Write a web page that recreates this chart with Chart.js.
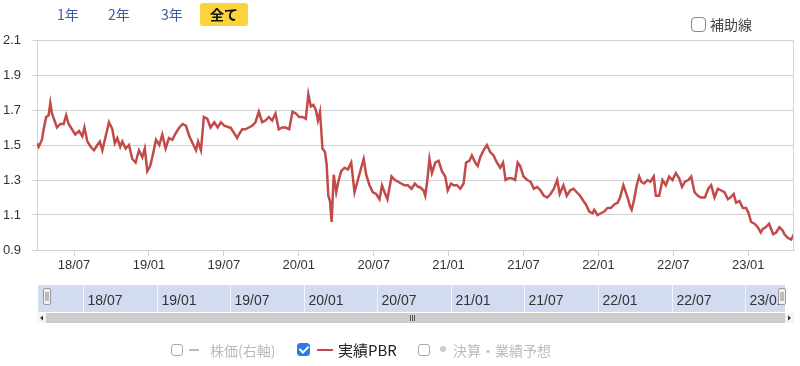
<!DOCTYPE html>
<html lang="ja">
<head>
<meta charset="utf-8">
<title>実績PBR</title>
<script src="https://cdn.jsdelivr.net/npm/chart.js@4.4.1/dist/chart.umd.min.js"></script>
<style>
  html, body { margin: 0; padding: 0; background: #fff; }
  body { width: 800px; height: 366px; position: relative; overflow: hidden;
         font-family: "Noto Sans CJK JP", "Noto Sans", sans-serif; }
  #wrap { position: absolute; left: 0; top: 0; width: 800px; height: 366px; }
  .abs { position: absolute; white-space: nowrap; }
  .range { top: 3px; height: 23px; line-height: 23px; font-size: 14px; color: #3b5ba5; }
  .range.on { background: #fbd33b; color: #111; font-weight: bold; border-radius: 3px; padding: 0 10px; }
  .box { box-sizing: border-box; border: 1.5px solid #aaa; border-radius: 3px; background: #fff; }
  .box.on { background: #2b7be0; border-color: #2b7be0; }
  .box.on::after { content: ""; position: absolute; left: 3px; top: 0px; width: 4px; height: 7px;
    border: solid #fff; border-width: 0 2px 2px 0; transform: rotate(45deg); }
  .leg { font-size: 14px; line-height: 20px; top: 340px; color: #bbb; }
</style>
</head>
<body>
<div id="wrap"><canvas id="pbr"></canvas></div>

<div class="abs range" style="left:57px">1年</div>
<div class="abs range" style="left:108px">2年</div>
<div class="abs range" style="left:161px">3年</div>
<div class="abs range on" style="left:200px">全て</div>

<div class="abs box" style="left:691px;top:17px;width:15px;height:15px;border-color:#888;border-radius:4px"></div>
<div class="abs" style="left:710px;top:14px;font-size:14px;line-height:20px;color:#444">補助線</div>

<div class="abs box" style="left:171px;top:344px;width:12px;height:12px"></div>
<div class="abs" style="left:189px;top:349px;width:10px;height:2px;background:#bbb"></div>
<div class="abs leg" style="left:210px">株価(右軸)</div>
<div class="abs box on" style="left:297px;top:343px;width:13px;height:13px"></div>
<div class="abs" style="left:317px;top:349px;width:16px;height:2px;background:#c24b4a"></div>
<div class="abs leg" style="left:338px;color:#222;font-size:15px">実績PBR</div>
<div class="abs box" style="left:418px;top:344px;width:12px;height:12px"></div>
<div class="abs" style="left:440px;top:346px;width:6px;height:6px;border-radius:3px;background:#ccc"></div>
<div class="abs leg" style="left:453px">決算・業績予想</div>

<script>
// 実績PBR
const dates = [
  '2018-04-02','2018-04-06','2018-04-14','2018-04-18','2018-04-24','2018-04-30','2018-05-04','2018-05-08',
  '2018-05-14','2018-05-20','2018-05-28','2018-06-06','2018-06-12','2018-06-18','2018-06-26','2018-07-04',
  '2018-07-13','2018-07-21','2018-07-26','2018-08-03','2018-08-11','2018-08-19','2018-08-27','2018-09-03',
  '2018-09-09','2018-09-17','2018-09-25','2018-10-03','2018-10-09','2018-10-15','2018-10-22','2018-10-27',
  '2018-11-05','2018-11-13','2018-11-21','2018-11-29','2018-12-07','2018-12-15','2018-12-21','2018-12-27',
  '2019-01-04','2019-01-10','2019-01-18','2019-01-26','2019-02-03','2019-02-11','2019-02-19','2019-02-27',
  '2019-03-06','2019-03-14','2019-03-22','2019-03-30','2019-04-08','2019-04-16','2019-04-24','2019-04-29',
  '2019-05-06','2019-05-13','2019-05-21','2019-05-29','2019-06-08','2019-06-16','2019-06-24','2019-07-02',
  '2019-07-14','2019-07-17','2019-07-25','2019-08-03','2019-08-07','2019-08-15','2019-08-23','2019-09-01',
  '2019-09-09','2019-09-17','2019-09-25','2019-10-03','2019-10-11','2019-10-19','2019-10-27','2019-11-05',
  '2019-11-13','2019-11-21','2019-11-29','2019-12-08','2019-12-16','2019-12-24','2020-01-02','2020-01-10',
  '2020-01-18','2020-01-24','2020-01-30','2020-02-06','2020-02-12','2020-02-17','2020-02-22','2020-02-28',
  '2020-03-04','2020-03-08','2020-03-12','2020-03-16','2020-03-20','2020-03-25','2020-04-01','2020-04-06',
  '2020-04-13','2020-04-21','2020-04-29','2020-05-07','2020-05-15','2020-05-23','2020-06-01','2020-06-07',
  '2020-06-13','2020-06-21','2020-06-29','2020-07-07','2020-07-15','2020-07-21','2020-07-27','2020-08-04',
  '2020-08-14','2020-08-22','2020-08-30','2020-09-07','2020-09-15','2020-09-23','2020-10-02','2020-10-10',
  '2020-10-18','2020-10-22','2020-11-01','2020-11-05','2020-11-10','2020-11-15','2020-11-21','2020-11-29',
  '2020-12-07','2020-12-15','2020-12-23','2020-12-29','2021-01-07','2021-01-13','2021-01-21','2021-01-29',
  '2021-02-07','2021-02-13','2021-02-21','2021-02-27','2021-03-05','2021-03-11','2021-03-17','2021-03-25',
  '2021-04-03','2021-04-11','2021-04-19','2021-04-27','2021-05-05','2021-05-12','2021-05-18','2021-05-25',
  '2021-06-03','2021-06-11','2021-06-17','2021-06-23','2021-07-01','2021-07-10','2021-07-18','2021-07-26',
  '2021-08-04','2021-08-12','2021-08-20','2021-08-28','2021-09-06','2021-09-14','2021-09-22','2021-09-28',
  '2021-10-07','2021-10-15','2021-10-23','2021-11-01','2021-11-09','2021-11-17','2021-11-25','2021-12-01',
  '2021-12-09','2021-12-17','2021-12-21','2021-12-29','2022-01-07','2022-01-15','2022-01-23','2022-02-01',
  '2022-02-09','2022-02-17','2022-02-23','2022-03-01','2022-03-04','2022-03-11','2022-03-17','2022-03-21',
  '2022-03-27','2022-04-03','2022-04-09','2022-04-14','2022-04-21','2022-04-29','2022-05-06','2022-05-14',
  '2022-05-19','2022-05-27','2022-06-05','2022-06-13','2022-06-21','2022-06-29','2022-07-07','2022-07-15',
  '2022-07-22','2022-07-29','2022-08-07','2022-08-14','2022-08-22','2022-08-30','2022-09-07','2022-09-17',
  '2022-09-25','2022-10-02','2022-10-10','2022-10-18','2022-10-26','2022-11-04','2022-11-12','2022-11-18',
  '2022-11-26','2022-12-02','2022-12-10','2022-12-18','2022-12-26','2023-01-02','2023-01-08','2023-01-16',
  '2023-01-24','2023-02-01','2023-02-06','2023-02-13','2023-02-21','2023-03-01','2023-03-08','2023-03-16',
  '2023-03-24','2023-03-28','2023-04-06','2023-04-14','2023-04-21'
];
const pbr = [
  1.51, 1.49, 1.53, 1.59, 1.66, 1.67, 1.74, 1.68,
  1.64, 1.60, 1.62, 1.62, 1.67, 1.62, 1.59, 1.56,
  1.58, 1.55, 1.60, 1.52, 1.49, 1.47, 1.50, 1.52,
  1.47, 1.55, 1.63, 1.59, 1.51, 1.54, 1.49, 1.52,
  1.48, 1.50, 1.42, 1.40, 1.47, 1.43, 1.48, 1.35,
  1.38, 1.44, 1.53, 1.50, 1.56, 1.48, 1.54, 1.53,
  1.57, 1.60, 1.62, 1.61, 1.55, 1.51, 1.47, 1.52,
  1.47, 1.66, 1.65, 1.60, 1.63, 1.60, 1.63, 1.61,
  1.60, 1.60, 1.57, 1.54, 1.56, 1.59, 1.59, 1.60,
  1.61, 1.63, 1.69, 1.63, 1.64, 1.66, 1.64, 1.68,
  1.59, 1.60, 1.60, 1.59, 1.69, 1.68, 1.66, 1.66,
  1.65, 1.79, 1.72, 1.73, 1.70, 1.64, 1.69, 1.48,
  1.46, 1.39, 1.21, 1.18, 1.06, 1.33, 1.23, 1.29,
  1.35, 1.37, 1.36, 1.40, 1.23, 1.30, 1.37, 1.42,
  1.33, 1.27, 1.23, 1.22, 1.19, 1.27, 1.23, 1.19,
  1.32, 1.30, 1.29, 1.28, 1.27, 1.27, 1.25, 1.28,
  1.26, 1.26, 1.24, 1.21, 1.30, 1.42, 1.34, 1.40,
  1.41, 1.35, 1.32, 1.24, 1.28, 1.27, 1.27, 1.25,
  1.28, 1.40, 1.41, 1.44, 1.40, 1.38, 1.43, 1.47,
  1.50, 1.46, 1.44, 1.40, 1.37, 1.40, 1.30, 1.31,
  1.31, 1.30, 1.40, 1.38, 1.32, 1.30, 1.29, 1.25,
  1.26, 1.24, 1.21, 1.20, 1.22, 1.25, 1.30, 1.22,
  1.27, 1.21, 1.24, 1.25, 1.23, 1.21, 1.18, 1.16,
  1.12, 1.11, 1.13, 1.10, 1.11, 1.12, 1.14, 1.14,
  1.16, 1.17, 1.20, 1.27, 1.25, 1.20, 1.15, 1.13,
  1.19, 1.27, 1.32, 1.29, 1.28, 1.30, 1.29, 1.32,
  1.21, 1.21, 1.30, 1.27, 1.32, 1.30, 1.34, 1.31,
  1.26, 1.29, 1.30, 1.32, 1.23, 1.21, 1.20, 1.20,
  1.25, 1.27, 1.20, 1.25, 1.24, 1.23, 1.19, 1.20,
  1.22, 1.17, 1.18, 1.14, 1.14, 1.11, 1.06, 1.05,
  1.03, 1.00, 1.02, 1.03, 1.05, 0.99, 1.00, 1.03,
  1.01, 0.99, 0.97, 0.96, 0.99
];
const tickDates = ['2018-07-01', '2019-01-01', '2019-07-01', '2020-01-01', '2020-07-01',
  '2021-01-01', '2021-07-01', '2022-01-01', '2022-07-01', '2023-01-01'];
const tickLabels = ['18/07', '19/01', '19/07', '20/01', '20/07', '21/01', '21/07', '22/01', '22/07', '23/01'];
const yTicks = [0.9, 1.1, 1.3, 1.5, 1.7, 1.9, 2.1];

const LINE = '#c24b4a';
const GRID = '#d2d2d2';
const FONT = '"Liberation Sans", Arial, sans-serif';

// months since 2018-01 (x axis is linear in months)
function toMonth(s) {
  const [y, m, d] = s.split('-').map(Number);
  return (y - 2018) * 12 + (m - 1) + (d - 1) / 30;
}

// navigator strip + scrollbar under the axis, plus right frame line
const navigatorPlugin = {
  id: 'navigator',
  afterDraw(chart) {
    const ctx = chart.ctx;
    const area = chart.chartArea;
    const xs = chart.scales.x;
    ctx.save();

    ctx.strokeStyle = GRID;
    ctx.lineWidth = 1;
    ctx.beginPath();
    ctx.moveTo(area.right - 0.5, area.top);
    ctx.lineTo(area.right - 0.5, area.bottom);
    ctx.stroke();

    const top = 285, bot = 312, left = 38, right = 785;
    const navX = (v) => 47 + (v - xs.min) / (xs.max - xs.min) * (790 - 47);
    ctx.fillStyle = '#d3dbf0';
    ctx.fillRect(left, top, right - left, bot - top);

    ctx.beginPath();
    ctx.rect(left, top, right - left, bot - top);
    ctx.clip();
    ctx.font = '14px ' + FONT;
    ctx.textBaseline = 'middle';
    tickDates.forEach((d, i) => {
      const x = Math.round(navX(toMonth(d))) + 0.5;
      ctx.strokeStyle = 'rgba(255,255,255,0.7)';
      ctx.beginPath();
      ctx.moveTo(x, top);
      ctx.lineTo(x, bot);
      ctx.stroke();
      ctx.fillStyle = '#333';
      ctx.fillText(tickLabels[i], x + 4, 301);
    });
    ctx.restore();
    ctx.save();

    // scrollbar
    ctx.fillStyle = '#cdcdcd';
    ctx.fillRect(37, 313, 757, 10);
    ctx.fillStyle = '#f4f4f4';
    ctx.fillRect(37, 313, 9, 10);
    ctx.fillRect(785, 313, 9, 10);
    ctx.fillStyle = '#333';
    ctx.beginPath();
    ctx.moveTo(43, 315.5); ctx.lineTo(40, 318); ctx.lineTo(43, 320.5); ctx.fill();
    ctx.beginPath();
    ctx.moveTo(788, 315.5); ctx.lineTo(791, 318); ctx.lineTo(788, 320.5); ctx.fill();
    ctx.strokeStyle = '#555';
    [410.5, 412.5, 414.5].forEach((x) => {
      ctx.beginPath(); ctx.moveTo(x, 315); ctx.lineTo(x, 321); ctx.stroke();
    });

    // handles
    [47, 782].forEach((cx) => {
      ctx.fillStyle = '#f2f2f2';
      ctx.strokeStyle = '#999';
      ctx.beginPath();
      ctx.roundRect(cx - 3.5, 288.5, 7, 16, 1.5);
      ctx.fill();
      ctx.stroke();
      ctx.strokeStyle = '#888';
      [cx - 1, cx + 1].forEach((x) => {
        ctx.beginPath(); ctx.moveTo(x, 292); ctx.lineTo(x, 301); ctx.stroke();
      });
    });
    ctx.restore();
  }
};

new Chart(document.getElementById('pbr'), {
  type: 'line',
  data: {
    datasets: [{
      label: '実績PBR',
      data: dates.map((d, i) => ({ x: toMonth(d), y: pbr[i] })),
      borderColor: LINE,
      borderWidth: 2.5,
      pointRadius: 0,
      tension: 0,
      fill: false
    }]
  },
  options: {
    responsive: true,
    maintainAspectRatio: false,
    animation: false,
    layout: { padding: { top: 40, right: 6, bottom: 86, left: 0 } },
    plugins: { legend: { display: false }, tooltip: { enabled: false } },
    scales: {
      x: {
        type: 'linear',
        min: toMonth(dates[0]),
        max: toMonth(dates[dates.length - 1]),
        afterBuildTicks: (s) => { s.ticks = tickDates.map((d) => ({ value: toMonth(d) })); },
        afterFit: (s) => { s.height = 30; },
        grid: { drawOnChartArea: false, drawTicks: true, tickLength: 6, color: GRID },
        border: { color: GRID },
        ticks: {
          autoSkip: false, maxRotation: 0, padding: 2, color: '#333',
          font: { size: 13, family: FONT },
          callback: (v, i) => tickLabels[i]
        }
      },
      y: {
        min: 0.9,
        max: 2.1,
        afterBuildTicks: (s) => { s.ticks = yTicks.map((v) => ({ value: v })); },
        afterFit: (s) => { s.width = 37; },
        grid: { color: GRID, tickLength: 5 },
        border: { color: GRID },
        ticks: {
          padding: 11, color: '#333',
          font: { size: 13, family: FONT },
          callback: (v) => v.toFixed(1)
        }
      }
    }
  },
  plugins: [navigatorPlugin]
});
</script>
</body>
</html>
